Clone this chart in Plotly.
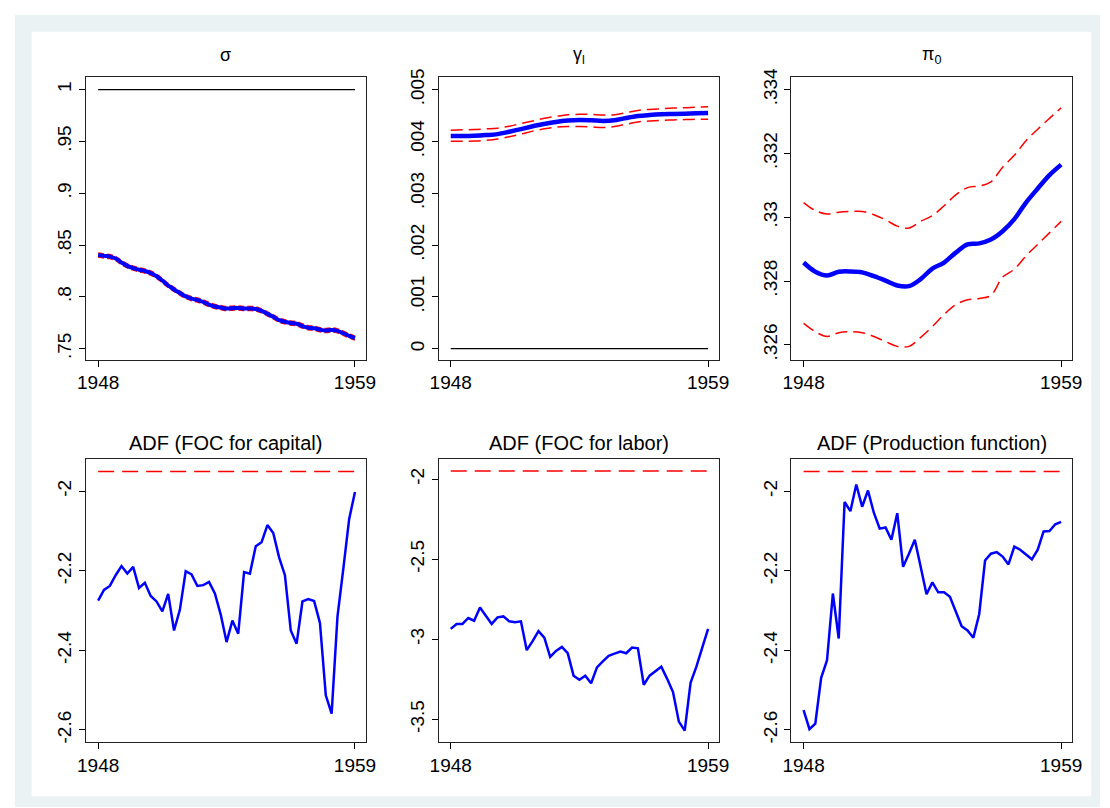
import plotly.graph_objects as go

# ---------------- data ----------------
t_q = [1948 + 0.25 * i for i in range(45)]          # quarterly grid 1948..1959
t_h = [1948 + 0.5 * i for i in range(23)]           # semiannual grid 1948..1959

sigma = [0.8405, 0.8396, 0.8389, 0.8370, 0.8332, 0.8300, 0.8278, 0.8262, 0.8250,
         0.8231, 0.8199, 0.8158, 0.8110, 0.8072, 0.8037, 0.8005, 0.7983, 0.7970,
         0.7951, 0.7926, 0.7907, 0.7897, 0.7888, 0.7891, 0.7894, 0.7888, 0.7888,
         0.7884, 0.7865, 0.7837, 0.7808, 0.7776, 0.7760, 0.7748, 0.7741, 0.7719,
         0.7703, 0.7697, 0.7684, 0.7675, 0.7681, 0.7672, 0.7649, 0.7624, 0.7602]
sigma_half_ci = 0.0017
sigma_ref = 1.0

gamma = [0.004104, 0.004104, 0.004110, 0.004123, 0.004142, 0.004187, 0.004238, 0.004295,
         0.004339, 0.004377, 0.004403, 0.004415, 0.004409, 0.004396, 0.004409, 0.004454,
         0.004492, 0.004511, 0.004524, 0.004530, 0.004536, 0.004543, 0.004549]
gamma_hi = [0.004219, 0.004225, 0.004231, 0.004244, 0.004257, 0.004295, 0.004346, 0.004396,
            0.004447, 0.004485, 0.004517, 0.004524, 0.004524, 0.004511, 0.004517, 0.004555,
            0.004600, 0.004619, 0.004632, 0.004644, 0.004651, 0.004663, 0.004670]
gamma_lo = [0.004003, 0.004003, 0.004009, 0.004022, 0.004047, 0.004092, 0.004142, 0.004200,
            0.004244, 0.004276, 0.004288, 0.004288, 0.004282, 0.004269, 0.004288, 0.004333,
            0.004377, 0.004396, 0.004409, 0.004415, 0.004422, 0.004428, 0.004428]
gamma_ref = 0.0

pi0 = [0.32858, 0.32829, 0.32817, 0.32829, 0.32830, 0.32827, 0.32815, 0.32801, 0.32786,
       0.32784, 0.32806, 0.32839, 0.32858, 0.32889, 0.32915, 0.32918, 0.32930, 0.32956,
       0.32994, 0.33046, 0.33090, 0.33132, 0.33165]
pi0_hi = [0.33046, 0.33021, 0.33010, 0.33016, 0.33018, 0.33018, 0.33008, 0.32992, 0.32972,
          0.32966, 0.32987, 0.33005, 0.33036, 0.33070, 0.33093, 0.33098, 0.33111, 0.33157,
          0.33194, 0.33240, 0.33276, 0.33310, 0.33343]
pi0_lo = [0.32667, 0.32641, 0.32626, 0.32638, 0.32641, 0.32638, 0.32626, 0.32610, 0.32595,
          0.32595, 0.32623, 0.32657, 0.32695, 0.32726, 0.32741, 0.32745, 0.32755, 0.32812,
          0.32837, 0.32879, 0.32915, 0.32951, 0.32987]

adf_capital = [-2.275, -2.248, -2.238, -2.211, -2.188, -2.207, -2.190, -2.243, -2.230,
               -2.263, -2.277, -2.302, -2.258, -2.350, -2.298, -2.201, -2.209, -2.238,
               -2.236, -2.228, -2.257, -2.310, -2.379, -2.325, -2.358, -2.203, -2.207,
               -2.138, -2.128, -2.085, -2.105, -2.166, -2.211, -2.350, -2.383, -2.277,
               -2.271, -2.276, -2.331, -2.513, -2.559, -2.315, -2.195, -2.070, -2.002]
adf_labor = [-2.935, -2.904, -2.904, -2.867, -2.884, -2.801, -2.853, -2.904, -2.863,
             -2.857, -2.888, -2.894, -2.888, -3.068, -3.011, -2.949, -2.990, -3.110,
             -3.073, -3.048, -3.087, -3.227, -3.253, -3.227, -3.274, -3.175, -3.138,
             -3.103, -3.089, -3.077, -3.087, -3.052, -3.056, -3.284, -3.227, -3.196,
             -3.171, -3.247, -3.329, -3.514, -3.570, -3.272, -3.171, -3.052, -2.935]
adf_prod = [-2.550, -2.598, -2.584, -2.469, -2.425, -2.257, -2.370, -2.027, -2.050,
            -1.983, -2.039, -1.998, -2.054, -2.094, -2.091, -2.122, -2.055, -2.190,
            -2.157, -2.122, -2.190, -2.259, -2.229, -2.254, -2.254, -2.265, -2.302,
            -2.339, -2.350, -2.368, -2.309, -2.174, -2.157, -2.153, -2.164, -2.184,
            -2.139, -2.147, -2.159, -2.171, -2.147, -2.101, -2.100, -2.083, -2.077]
adf_crit = -1.95

titles_top = ["σ", "γ<sub>l</sub>", "π<sub>0</sub>"]
titles_bot = ["ADF (FOC for capital)", "ADF (FOC for labor)", "ADF (Production function)"]

x_ticks = [1948, 1959]
y_ticks = [
    ([0.75, 0.8, 0.85, 0.9, 0.95, 1.0], [".75", ".8", ".85", ".9", ".95", "1"]),
    ([0, 0.001, 0.002, 0.003, 0.004, 0.005], ["0", ".001", ".002", ".003", ".004", ".005"]),
    ([0.326, 0.328, 0.330, 0.332, 0.334], [".326", ".328", ".33", ".332", ".334"]),
    ([-2.6, -2.4, -2.2, -2.0], ["-2.6", "-2.4", "-2.2", "-2"]),
    ([-3.5, -3.0, -2.5, -2.0], ["-3.5", "-3", "-2.5", "-2"]),
    ([-2.6, -2.4, -2.2, -2.0], ["-2.6", "-2.4", "-2.2", "-2"]),
]
y_ranges = [
    [0.7395, 1.0118],
    [-0.00021, 0.005236],
    [0.325535, 0.334384],
    [-2.6305, -1.9198],
    [-3.6418, -1.8767],
    [-2.6305, -1.9198],
]
x_range = [1947.478, 1959.463]

# ---------------- layout geometry ----------------
W, H = 1110, 808
col_px = [(78.3, 363.0), (437.0, 722.3), (796.0, 1081.5)]
row_px = [(69.3, 355.0), (456.0, 742.3)]

BLUE = "#0000FF"
RED = "#FF0000"
FONT = "Liberation Sans, Arial, sans-serif"

fig = go.Figure()

def axname(i, kind):
    return kind if i == 0 else f"{kind}{i+1}"

def add(i, x, y, color, width, dash="solid", shape="linear"):
    fig.add_trace(go.Scatter(
        x=x, y=y, mode="lines",
        line=dict(color=color, width=width, dash=dash, shape=shape),
        xaxis="x" if i == 0 else f"x{i+1}",
        yaxis="y" if i == 0 else f"y{i+1}",
        showlegend=False, hoverinfo="skip"))

# panel 1: sigma
sig_hi = [v + sigma_half_ci for v in sigma]
sig_lo = [v - sigma_half_ci for v in sigma]
add(0, [t_q[0], t_q[-1]], [sigma_ref, sigma_ref], "black", 1.3)
add(0, t_q, sig_hi, RED, 2, "6px,3px", "spline")
add(0, t_q, sig_lo, RED, 2, "6px,3px", "spline")
add(0, t_q, sigma, BLUE, 4, "solid", "spline")

# panel 2: gamma_l
add(1, [t_h[0], t_h[-1]], [gamma_ref, gamma_ref], "black", 1.3)
add(1, t_h, gamma_hi, RED, 1.5, "12px,6px", "spline")
add(1, t_h, gamma_lo, RED, 1.5, "12px,6px", "spline")
add(1, t_h, gamma, BLUE, 4.5, "solid", "spline")

# panel 3: pi_0
add(2, t_h, pi0_hi, RED, 1.5, "12px,6px", "spline")
add(2, t_h, pi0_lo, RED, 1.5, "12px,6px", "spline")
add(2, t_h, pi0, BLUE, 4.5, "solid", "spline")

# bottom panels: ADF statistics
for i, series in zip([3, 4, 5], [adf_capital, adf_labor, adf_prod]):
    add(i, [t_q[0], t_q[-1]], [adf_crit, adf_crit], RED, 1.5, "16px,8px")
    add(i, t_q, series, BLUE, 2.5)

layout = dict(
    width=W, height=H,
    margin=dict(l=0, r=0, t=0, b=0),
    paper_bgcolor="white", plot_bgcolor="white",
    font=dict(family=FONT, size=19, color="black"),
    showlegend=False,
)

annotations = []
for i in range(6):
    r, c = divmod(i, 3)
    x0, x1 = col_px[c]
    yt, yb = row_px[r]
    xa = axname(i, "xaxis")
    ya = axname(i, "yaxis")
    layout[xa] = dict(
        domain=[x0 / W, x1 / W], range=x_range,
        anchor="y" if i == 0 else f"y{i+1}",
        tickmode="array", tickvals=x_ticks, ticktext=[str(v) for v in x_ticks],
        ticks="outside", ticklen=6, tickwidth=1, tickcolor="black",
        showline=True, mirror=True, linecolor="#222222", linewidth=1,
        showgrid=False, zeroline=False,
        tickfont=dict(size=19, family=FONT, color="black"),
    )
    tv, tt = y_ticks[i]
    layout[ya] = dict(
        domain=[1 - yb / H, 1 - yt / H], range=y_ranges[i],
        anchor="x" if i == 0 else f"x{i+1}",
        tickmode="array", tickvals=tv, ticktext=tt, tickangle=-90,
        ticks="outside", ticklen=6, tickwidth=1, tickcolor="black",
        showline=True, mirror=True, linecolor="#222222", linewidth=1,
        showgrid=False, zeroline=False,
        tickfont=dict(size=19, family=FONT, color="black"),
    )
    title = titles_top[c] if r == 0 else titles_bot[c]
    ty = 47 if r == 0 else 439
    annotations.append(dict(
        text=title, xref="paper", yref="paper",
        x=(x0 + x1) / 2 / W, y=1 - ty / H, xanchor="center", yanchor="middle",
        showarrow=False,
        font=dict(size=18 if r == 0 else 20, family=FONT, color="black"),
    ))

layout["annotations"] = annotations
layout["shapes"] = [
    dict(type="rect", xref="paper", yref="paper", layer="below",
         x0=6 / W, x1=1.0, y0=0.0, y1=1 - 6 / H,
         fillcolor="#EAF2F3", line=dict(width=0)),
    dict(type="rect", xref="paper", yref="paper", layer="below",
         x0=23 / W, x1=1101 / W, y0=1 - 797 / H, y1=1 - 23 / H,
         fillcolor="white", line=dict(width=0)),
]

fig.update_layout(**layout)
fig.write_html("out.html")
